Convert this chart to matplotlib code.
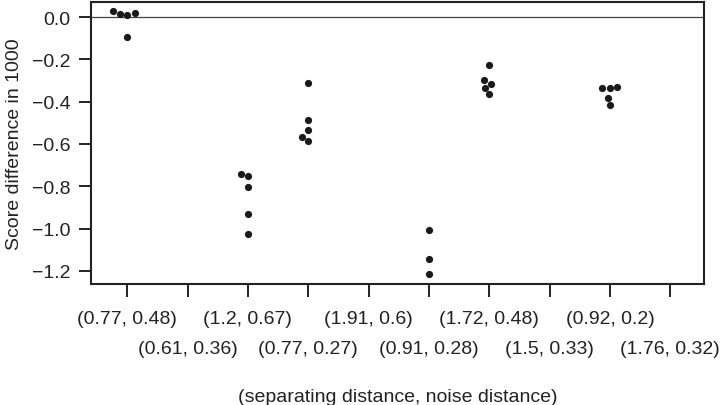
import numpy as np
import pandas as pd
import matplotlib
matplotlib.use("Agg")
import matplotlib.pyplot as plt
import seaborn as sns

# ---- data
pairs = ["(0.77, 0.48)", "(0.61, 0.36)", "(1.2, 0.67)", "(0.77, 0.27)", "(1.91, 0.6)",
         "(0.91, 0.28)", "(1.72, 0.48)", "(1.5, 0.33)", "(0.92, 0.2)", "(1.76, 0.32)"]

score_077_048 = [0.011, 0.030, 0.017, 0.013, -0.096]
score_12_067 = [-0.740, -0.750, -0.803, -0.929, -1.024]
score_077_027 = [-0.312, -0.485, -0.532, -0.567, -0.586]
score_091_028 = [-1.006, -1.142, -1.215]
score_172_048 = [-0.228, -0.299, -0.315, -0.337, -0.365]
score_092_02 = [-0.335, -0.337, -0.329, -0.383, -0.416]

groups = {
    "(0.77, 0.48)": score_077_048,
    "(1.2, 0.67)": score_12_067,
    "(0.77, 0.27)": score_077_027,
    "(0.91, 0.28)": score_091_028,
    "(1.72, 0.48)": score_172_048,
    "(0.92, 0.2)": score_092_02,
}
df = pd.DataFrame([(k, v) for k, vals in groups.items() for v in vals],
                  columns=["pair", "score"])

plt.rcParams['font.family'] = ['Liberation Sans', 'DejaVu Sans']
ink = '#222222'
fs = 14

fig = plt.figure(figsize=(7.2, 4.06), dpi=100)
ax = fig.add_axes([0.1264, 0.298, 0.8514, 0.6946])

sns.swarmplot(data=df, x="pair", y="score", order=pairs, color='#1a1a1a',
              size=5.2, ax=ax)

ax.axhline(0.0, color='#444444', linewidth=0.9, zorder=0)

ax.set_xlim(-0.6, 9.56)
ax.set_ylim(-1.262, 0.071)

# two rows of labels: odd categories on top row, even ones below
pos = np.arange(len(pairs))
ax.set_xticks(pos[0::2])
ax.set_xticklabels(pairs[0::2])
ax.set_xticks(pos[1::2], minor=True)
ax.set_xticklabels(pairs[1::2], minor=True)
ax.tick_params(axis='x', which='major', length=9, width=1.4, color=ink,
               labelsize=fs, labelcolor=ink, pad=9.5)
ax.tick_params(axis='x', which='minor', length=9, width=1.4, color=ink,
               labelsize=fs, labelcolor=ink, pad=31.5)

ax.set_yticks([0.0, -0.2, -0.4, -0.6, -0.8, -1.0, -1.2])
ax.set_yticklabels(['0.0', '\u22120.2', '\u22120.4', '\u22120.6', '\u22120.8', '\u22121.0', '\u22121.2'])
ax.tick_params(axis='y', length=9, width=1.4, color=ink, labelsize=fs,
               labelcolor=ink, pad=6)

for s in ax.spines.values():
    s.set_linewidth(1.5)
    s.set_color(ink)

ax.set_xlabel("(separating distance, noise distance)", fontsize=fs, color=ink, labelpad=22)
ax.set_ylabel("Score difference in 1000", fontsize=fs, color=ink, labelpad=6)

fig.savefig("out.png", dpi=100)
